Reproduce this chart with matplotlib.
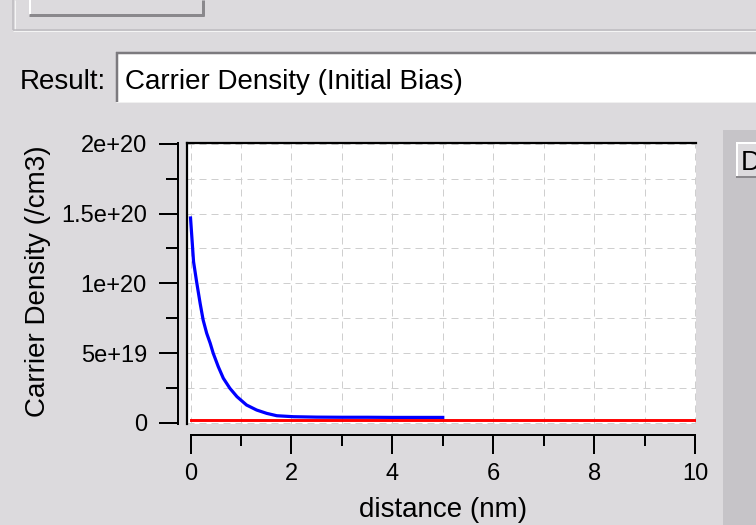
import matplotlib
matplotlib.use('Agg')
import matplotlib.pyplot as plt
import numpy as np
from matplotlib.patches import Rectangle
from matplotlib.lines import Line2D

plt.rcParams['font.family'] = ['Liberation Sans', 'DejaVu Sans']

# Densidad de portadores (polarizacion inicial), curva azul
distancia_azul = [0, 0.06, 0.12, 0.19, 0.25, 0.32, 0.39, 0.45, 0.55, 0.65, 0.78,
                  0.92, 1.11, 1.31, 1.51, 1.71, 2.04, 2.5, 3.0, 3.5, 4.0, 4.5, 5.0]
densidad_azul = np.array([146.9, 115.5, 101.2, 85.7, 73.7, 64.2, 57.0, 49.8, 40.2,
                          31.9, 24.7, 18.7, 12.7, 9.1, 6.7, 5.0, 4.3, 4.0, 3.9, 3.9,
                          3.8, 3.8, 3.8]) * 1e18

# Curva roja casi nula en todo el dominio
distancia_roja = [0, 10]
densidad_roja = [1.8e18, 1.8e18]

ticks_x = [0, 2, 4, 6, 8, 10]
ticks_y = [0, 5e19, 1e20, 1.5e20, 2e20]
etiquetas_y = ['0', '5e+19', '1e+20', '1.5e+20', '2e+20']

W, H = 756, 525
FONDO = '#dcdadd'

fig = plt.figure(figsize=(W / 100, H / 100), dpi=100, facecolor=FONDO)


def caja(x0, y0, x1, y1, **kw):
    fig.add_artist(Rectangle((x0 / W, 1 - y1 / H), (x1 - x0) / W, (y1 - y0) / H,
                             transform=fig.transFigure, **kw))


def linea(xs, ys, color, px):
    fig.add_artist(Line2D([x / W for x in xs], [1 - y / H for y in ys],
                          transform=fig.transFigure, color=color, lw=px * 0.72,
                          solid_capstyle='butt'))


# marco superior y boton
linea([13, 13], [0, 30], '#bdbbbf', 1.5)
linea([14.5, 14.5], [0, 30], '#f4f4f4', 1)
linea([13, 756], [29.5, 29.5], '#bdbbbf', 1.5)
linea([13, 756], [31, 31], '#f4f4f4', 1)
linea([30, 30], [0, 15], '#ffffff', 2)
linea([29, 204], [15, 15], '#8a888c', 3)
linea([202.5, 202.5], [0, 16], '#8a888c', 3)

# campo "Result"
fig.text(20 / W, 1 - 89 / H, 'Result:', fontsize=20, va='baseline', ha='left')
caja(116, 52, 760, 102, facecolor='white', edgecolor='none')
linea([116, 760], [53, 53], '#7c7a7e', 2.5)
linea([117, 117], [52, 102], '#7c7a7e', 2.5)
linea([116, 760], [101.5, 101.5], '#f0f0f0', 1)
fig.text(125 / W, 1 - 89 / H, 'Carrier Density (Initial Bias)', fontsize=20,
         va='baseline', ha='left')

# panel derecho con boton recortado por el borde
caja(723, 130, 760, 525, facecolor='#c6c4c8', edgecolor='none')
caja(736, 142, 760, 178, facecolor=FONDO, edgecolor='none')
linea([736, 760], [143, 143], '#ffffff', 2)
linea([737, 737], [142, 178], '#ffffff', 2)
linea([736, 760], [177, 177], '#8a888c', 2)
fig.text(741 / W, 1 - 170 / H, 'D', fontsize=20, va='baseline', ha='left')

# grafica
ax = fig.add_axes([187 / W, 1 - 424 / H, (696 - 187) / W, (424 - 143) / H])
ax.set_facecolor('white')
ax.plot(distancia_azul, densidad_azul, color='#0000ff', lw=2.3, zorder=3)
ax.plot(distancia_roja, densidad_roja, color='#ff0000', lw=2.1, zorder=4)

ax.set_xlim(-0.07, 10.02)
ax.set_ylim(-0.93e18, 2.007e20)

ax.set_xticks(ticks_x)
ax.set_xticks(np.arange(1, 10, 2), minor=True)
ax.set_yticks(ticks_y)
ax.set_yticklabels(etiquetas_y)
ax.set_yticks(np.arange(2.5e19, 2e20, 5e19), minor=True)

ax.grid(which='both', color='#cfcfcf', lw=0.72, linestyle=(0, (7, 5)), zorder=1)
ax.set_axisbelow(True)

ax.spines['right'].set_visible(False)
ax.spines['top'].set_color('black')
ax.spines['top'].set_linewidth(1.6)
ax.spines['left'].set_position(('outward', 6.5))
ax.spines['left'].set_linewidth(1.44)
ax.spines['bottom'].set_position(('outward', 8))
ax.spines['bottom'].set_linewidth(1.44)
ax.spines['bottom'].set_bounds(0, 10)

# borde oscuro del area de trazado
ax.plot([0, 0], [0, 1], transform=ax.transAxes, color='black', lw=1.6,
        clip_on=False, zorder=5)

ax.tick_params(axis='both', which='major', direction='out', width=1.44,
               labelsize=17, color='black')
ax.tick_params(axis='y', which='major', length=13.7, pad=8.6)
ax.tick_params(axis='y', which='minor', length=8.6, width=1.44)
ax.tick_params(axis='x', which='major', length=13.7, pad=6.5)
ax.tick_params(axis='x', which='minor', length=8, width=1.44)

fig.text(443 / W, 1 - 517 / H, 'distance (nm)', fontsize=20, ha='center',
         va='baseline')
fig.text(45 / W, 1 - 281 / H, 'Carrier Density (/cm3)', fontsize=20,
         rotation=90, rotation_mode='anchor', ha='center', va='baseline')

fig.savefig('out.png', dpi=100, facecolor=FONDO)
